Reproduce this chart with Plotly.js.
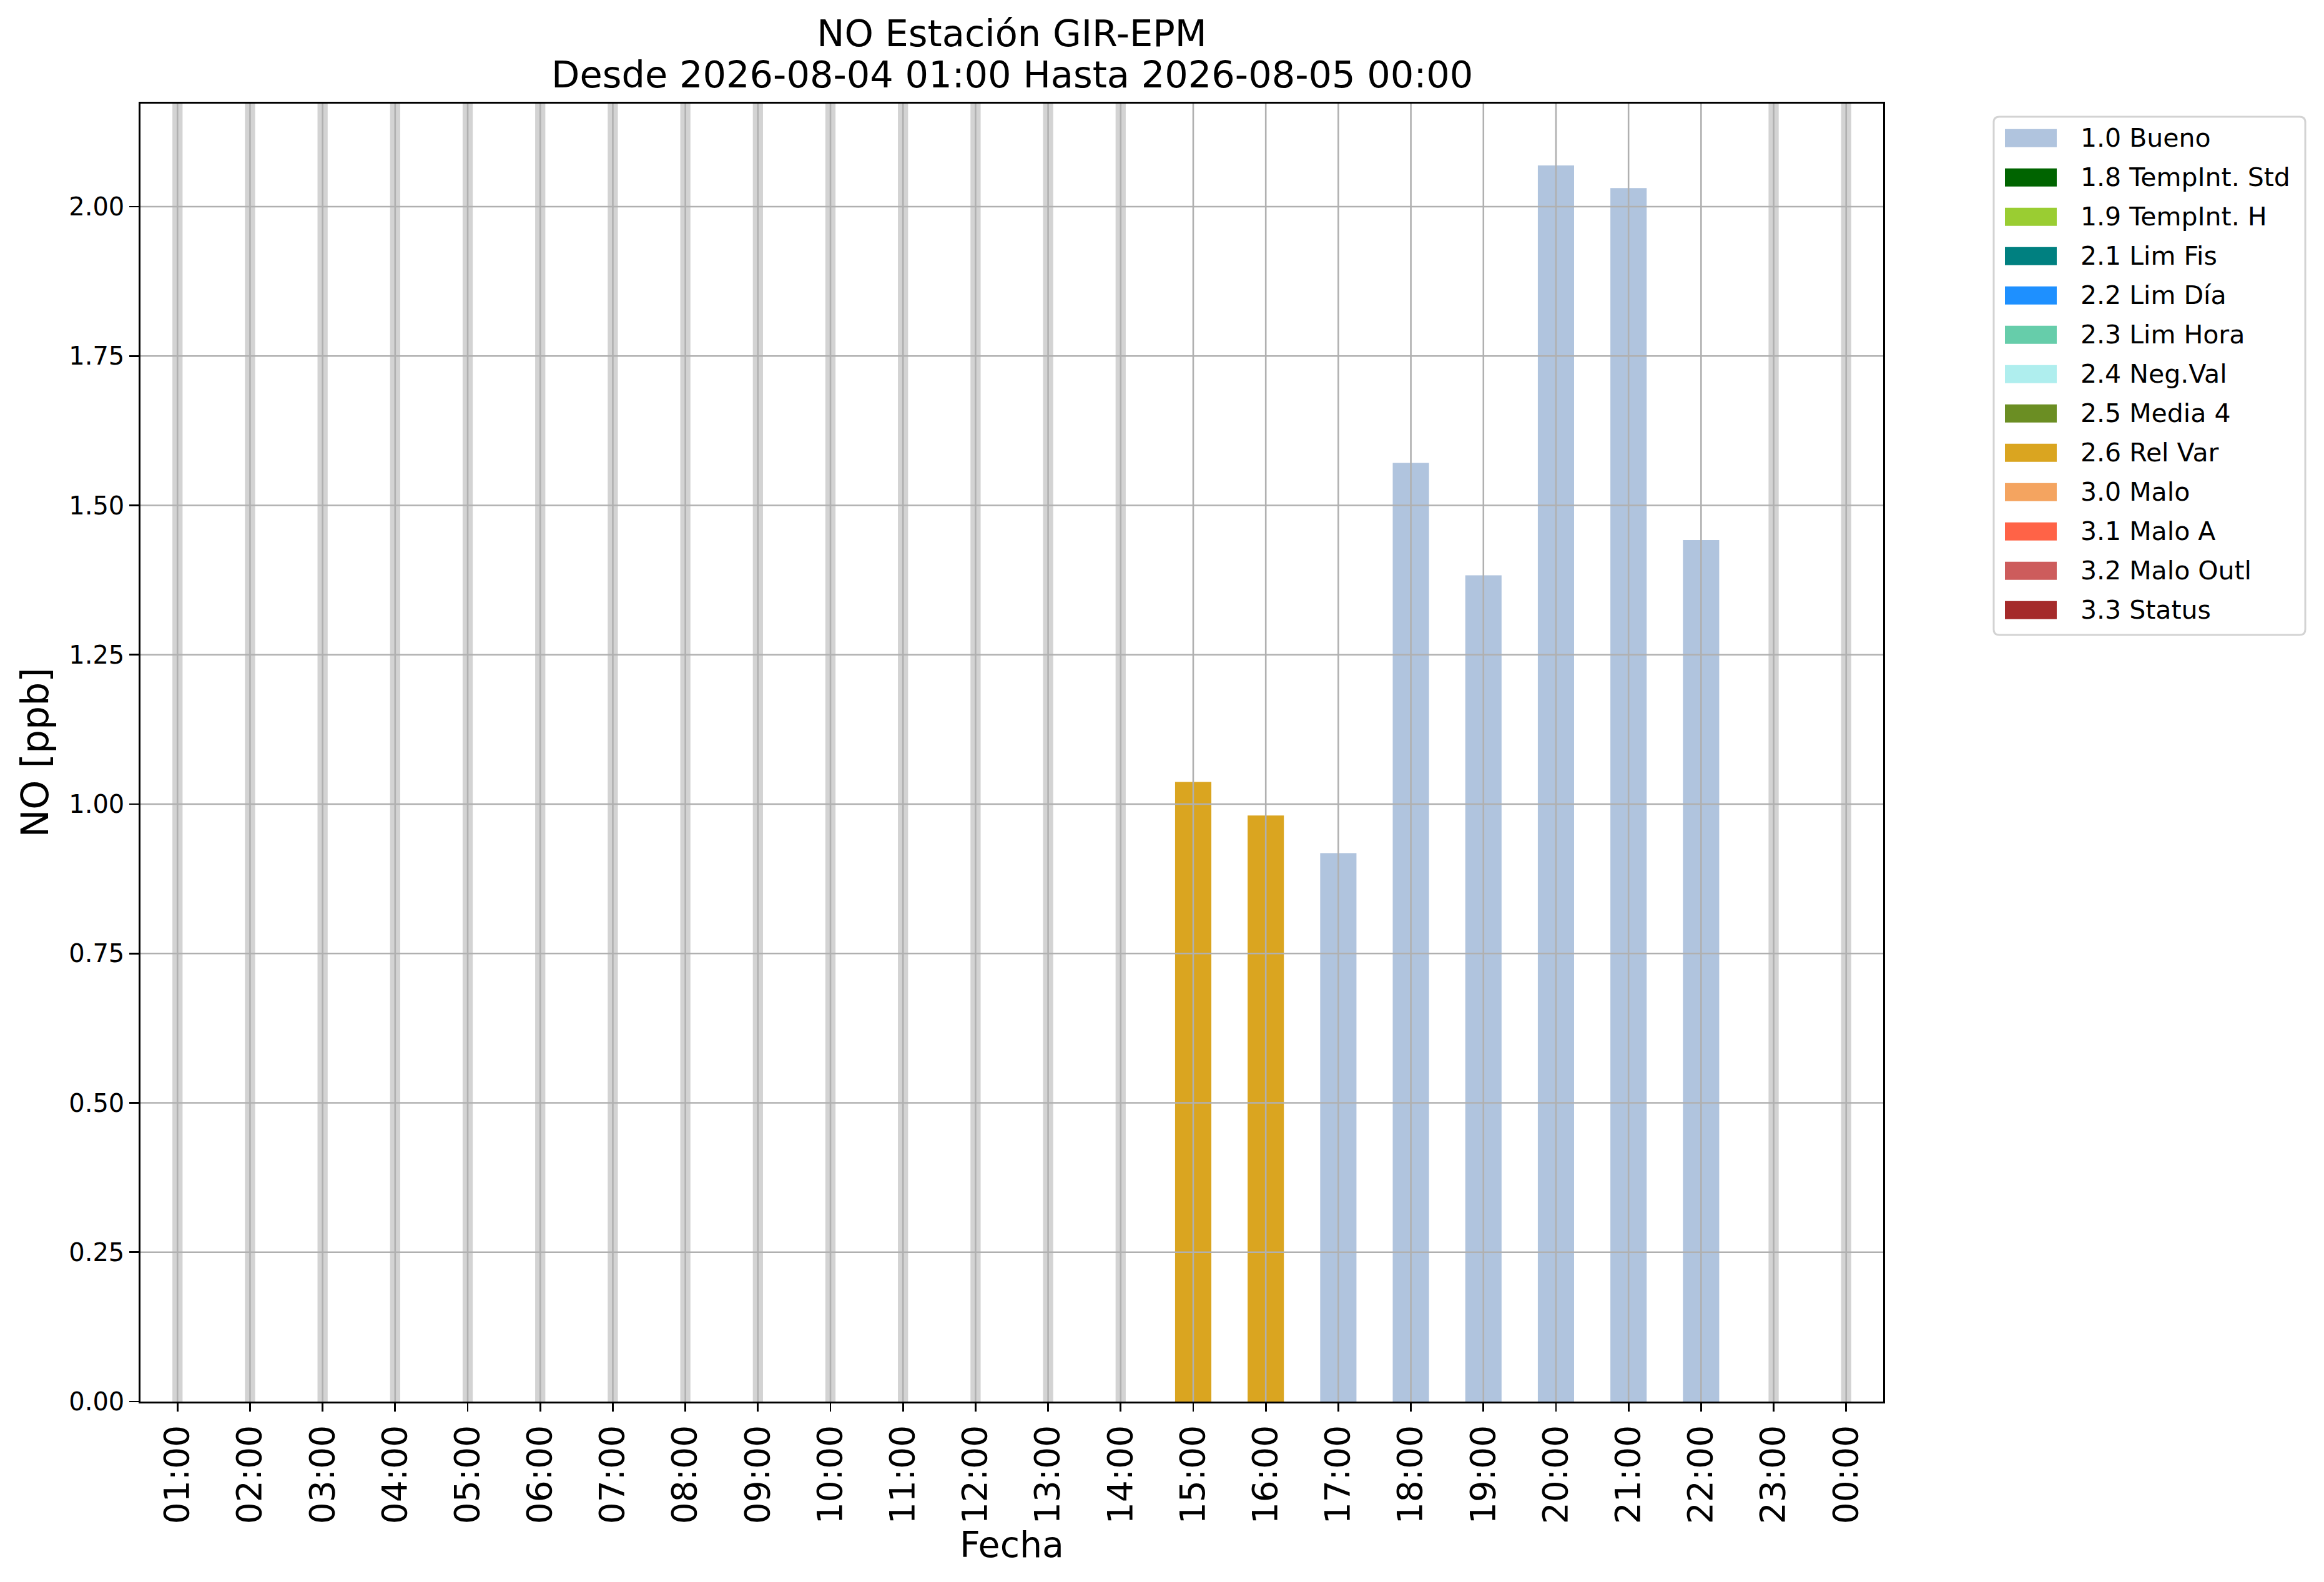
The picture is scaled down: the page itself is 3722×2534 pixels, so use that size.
<!DOCTYPE html>
<html>
<head>
<meta charset="utf-8">
<script src="https://cdn.plot.ly/plotly-3.0.1.min.js"></script>
<style>html,body{margin:0;padding:0;background:#fff;}</style>
</head>
<body>
<div id="chart" style="width:3722px;height:2534px;"></div>
<script>
// ---- data ----
const hours = ['01:00','02:00','03:00','04:00','05:00','06:00','07:00','08:00','09:00','10:00','11:00','12:00',
               '13:00','14:00','15:00','16:00','17:00','18:00','19:00','20:00','21:00','22:00','23:00','00:00'];
const values = [null,null,null,null,null,null,null,null,null,null,null,null,
                null,null,1.037,0.981,0.918,1.571,1.383,2.069,2.031,1.442,null,null];
const flags  = [null,null,null,null,null,null,null,null,null,null,null,null,
                null,null,'2.6 Rel Var','2.6 Rel Var','1.0 Bueno','1.0 Bueno','1.0 Bueno','1.0 Bueno','1.0 Bueno','1.0 Bueno',null,null];
const flagNames  = ['1.0 Bueno','1.8 TempInt. Std','1.9 TempInt. H','2.1 Lim Fis','2.2 Lim Día','2.3 Lim Hora',
                    '2.4 Neg.Val','2.5 Media 4','2.6 Rel Var','3.0 Malo','3.1 Malo A','3.2 Malo Outl','3.3 Status'];
const flagColors = ['#B0C4DE','#006400','#9ACD32','#008080','#1E90FF','#66CDAA',
                    '#AFEEEE','#6B8E23','#DAA520','#F4A460','#FF6347','#CD5C5C','#A52A2A'];
const yTicks = [0,0.25,0.5,0.75,1.0,1.25,1.5,1.75,2.0];
const titleLine1 = 'NO Estación GIR-EPM';
const titleLine2 = 'Desde 2026-08-04 01:00 Hasta 2026-08-05 00:00';

// ---- geometry (pixels) ----
const FW = 3722, FH = 2534;
const L = 225, R = 3016, T = 166, B = 2245;
const W = R - L, H = B - T;
const pxX = p => (p - L) / W;
const pxY = p => (B - p) / H;
const FONT = 'DejaVu Sans, Verdana, sans-serif';

const yTop = Math.max(...values.filter(v => v !== null)) * 1.05;

// ---- traces ----
const traces = flagNames.map((name, k) => ({
  type: 'bar',
  name: name,
  x: hours,
  y: values.map((v, i) => flags[i] === name ? v : null),
  width: 0.5,
  marker: {color: flagColors[k], line: {width: 0}},
  showlegend: false,
  hoverinfo: 'x+y+name'
}));

// ---- shapes ----
const shapes = [];
// missing-data bands
values.forEach((v, i) => {
  if (v === null) {
    shapes.push({type: 'rect', xref: 'x', yref: 'paper', x0: i - 0.07, x1: i + 0.07, y0: 0, y1: 1,
                 fillcolor: '#D3D3D3', line: {width: 0}, layer: 'below'});
  }
});
// grid lines above bars
hours.forEach((h, i) => {
  shapes.push({type: 'line', xref: 'x', yref: 'paper', x0: i, x1: i, y0: 0, y1: 1,
               line: {color: '#B0B0B0', width: 2.6}, layer: 'above'});
});
yTicks.forEach(t => {
  if (t > 0) shapes.push({type: 'line', xref: 'paper', yref: 'y', x0: 0, x1: 1, y0: t, y1: t,
               line: {color: '#B0B0B0', width: 2.6}, layer: 'above'});
});
// legend box (rounded)
const lx0 = 3193, lx1 = 3692, ly0 = 187, ly1 = 1017, rr = 9;
const P = (x, y) => pxX(x).toFixed(6) + ',' + pxY(y).toFixed(6);
const legPath = 'M' + P(lx0 + rr, ly0) + ' L' + P(lx1 - rr, ly0) + ' Q' + P(lx1, ly0) + ' ' + P(lx1, ly0 + rr) +
  ' L' + P(lx1, ly1 - rr) + ' Q' + P(lx1, ly1) + ' ' + P(lx1 - rr, ly1) +
  ' L' + P(lx0 + rr, ly1) + ' Q' + P(lx0, ly1) + ' ' + P(lx0, ly1 - rr) +
  ' L' + P(lx0, ly0 + rr) + ' Q' + P(lx0, ly0) + ' ' + P(lx0 + rr, ly0) + ' Z';
shapes.push({type: 'path', xref: 'paper', yref: 'paper', path: legPath,
             fillcolor: 'rgba(255,255,255,0.8)', line: {color: '#D3D3D3', width: 3}, layer: 'above'});

const annotations = [];
const rowY0 = 221.3, rowPitch = 63;
flagNames.forEach((name, k) => {
  const cy = rowY0 + k * rowPitch;
  shapes.push({type: 'rect', xref: 'paper', yref: 'paper',
               x0: pxX(3211), x1: pxX(3294), y0: pxY(cy + 14.5), y1: pxY(cy - 14.5),
               fillcolor: flagColors[k], line: {width: 0}, layer: 'above'});
  annotations.push({xref: 'paper', yref: 'paper', x: pxX(3330), y: pxY(cy), xanchor: 'left', yanchor: 'middle',
                    text: name, showarrow: false, font: {family: FONT, size: 41, color: '#000'}});
});
// second title line
annotations.push({xref: 'paper', yref: 'paper', x: 0.5, y: pxY(119), xanchor: 'center', yanchor: 'middle',
                  text: titleLine2, showarrow: false, font: {family: FONT, size: 59, color: '#000'}});

const layout = {
  width: FW, height: FH,
  margin: {l: L, r: FW - R, t: T, b: FH - B, pad: 0},
  paper_bgcolor: '#fff', plot_bgcolor: '#fff',
  barmode: 'overlay',
  showlegend: false,
  font: {family: FONT, color: '#000'},
  title: {text: titleLine1, x: (L + R) / 2 / FW, xanchor: 'center', xref: 'container',
          y: 1 - 53.5 / FH, yanchor: 'middle', yref: 'container',
          font: {family: FONT, size: 59, color: '#000'}},
  xaxis: {
    type: 'category', range: [-0.51, 23.51], autorange: false,
    tickmode: 'array', tickvals: hours, ticktext: hours,
    tickangle: -90, tickfont: {family: FONT, size: 55, color: '#000'},
    ticks: 'outside', ticklen: 13, tickwidth: 2.7, tickcolor: '#000',
    showline: true, linecolor: '#000', linewidth: 2.7, mirror: true,
    showgrid: false, zeroline: false,
    title: {text: 'Fecha', font: {family: FONT, size: 57, color: '#000'}, standoff: 4}
  },
  yaxis: {
    range: [0, yTop], autorange: false,
    tickmode: 'array', tickvals: yTicks, ticktext: yTicks.map(t => t.toFixed(2)),
    tickfont: {family: FONT, size: 40, color: '#000'},
    ticks: 'outside', ticklen: 15, tickwidth: 2.7, tickcolor: '#000',
    showline: true, linecolor: '#000', linewidth: 2.7, mirror: true,
    showgrid: false, zeroline: false,
    title: {text: 'NO [ppb]', font: {family: FONT, size: 60, color: '#000'}, standoff: 14}
  },
  shapes: shapes,
  annotations: annotations
};

Plotly.newPlot('chart', traces, layout, {staticPlot: true, displayModeBar: false});
</script>
</body>
</html>
